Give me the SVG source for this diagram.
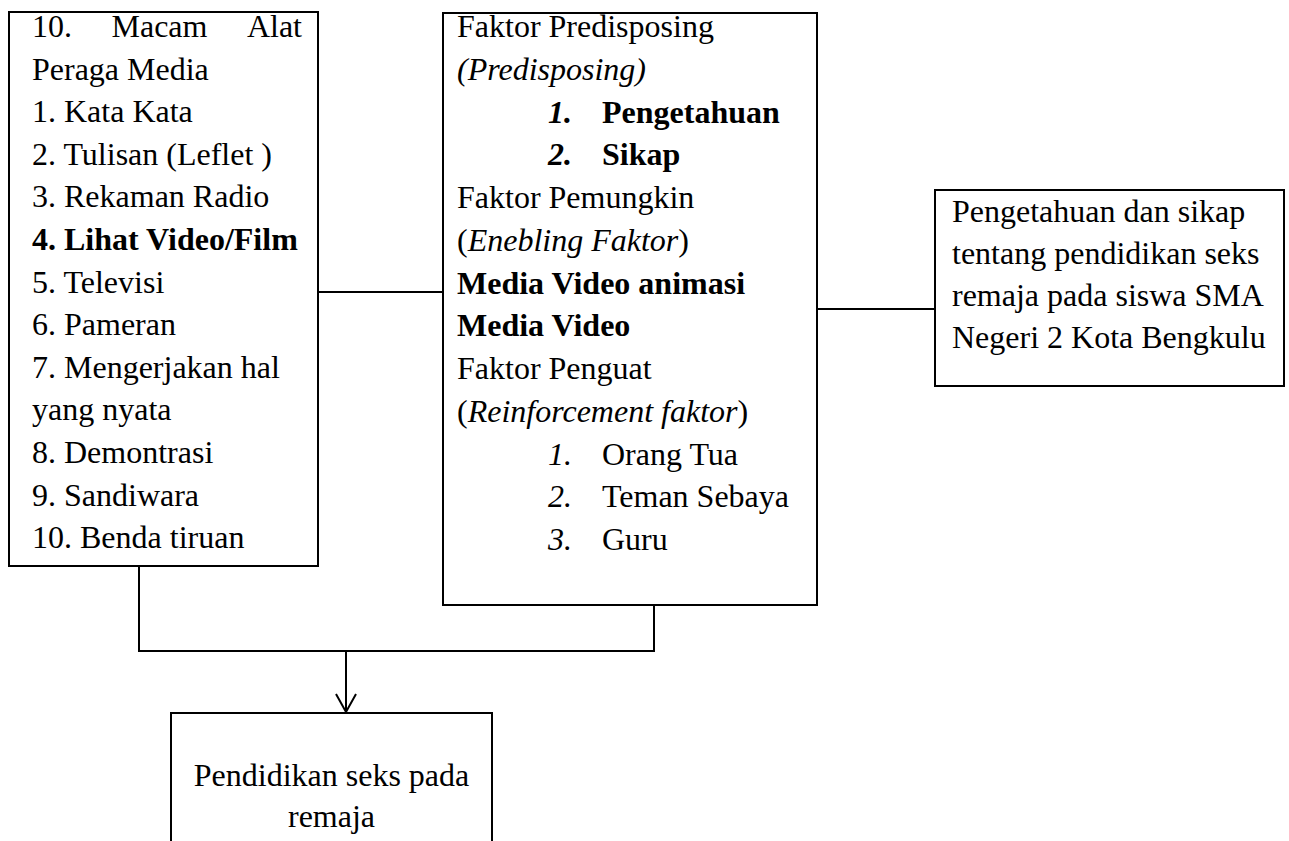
<svg xmlns="http://www.w3.org/2000/svg" width="1289" height="841" viewBox="0 0 1289 841">
<defs>
<style>
.box{fill:#fff;stroke:#000;stroke-width:2}
.t{font-family:"Liberation Serif","Times New Roman",serif;font-size:32px;fill:#000}
.b{font-weight:bold}
.i{font-style:italic}
.c{fill:none;stroke:#000;stroke-width:2}
</style>
<marker id="arr" markerWidth="22" markerHeight="24" refX="19" refY="11" orient="auto" markerUnits="userSpaceOnUse">
<path d="M1,1 L19,11 L1,21" fill="none" stroke="#000" stroke-width="2"/>
</marker>
</defs>
<rect width="1289" height="841" fill="#fff"/>
<g id="connectors">
<line class="c" x1="318" y1="292" x2="443" y2="292"/>
<line class="c" x1="817" y1="309" x2="935" y2="309"/>
<polyline class="c" points="139,566 139,651 654,651 654,605"/>
<line class="c" x1="346" y1="651" x2="346" y2="712" marker-end="url(#arr)"/>
</g>
<g id="node-media">
<rect class="box" x="9" y="12" width="309" height="554"/>
<text class="t" x="32" y="37">10.</text>
<text class="t" x="111.5" y="37">Macam</text>
<text class="t" x="302" y="37" text-anchor="end">Alat</text>
<text class="t" x="32" y="79.6">Peraga Media</text>
<text class="t" x="32" y="122.2">1. Kata Kata</text>
<text class="t" x="32" y="164.8">2. Tulisan (Leflet )</text>
<text class="t" x="32" y="207.4">3. Rekaman Radio</text>
<text class="t b" x="32" y="250">4. Lihat Video/Film</text>
<text class="t" x="32" y="292.6">5. Televisi</text>
<text class="t" x="32" y="335.2">6. Pameran</text>
<text class="t" x="32" y="377.8">7. Mengerjakan hal</text>
<text class="t" x="32" y="420.4">yang nyata</text>
<text class="t" x="32" y="463">8. Demontrasi</text>
<text class="t" x="32" y="505.6">9. Sandiwara</text>
<text class="t" x="32" y="548.2">10. Benda tiruan</text>
</g>
<g id="node-faktor">
<rect class="box" x="443" y="13" width="374" height="592"/>
<text class="t" x="457" y="37">Faktor Predisposing</text>
<text class="t i" x="457" y="79.7">(Predisposing)</text>
<text class="t i b" x="548" y="122.5">1.</text>
<text class="t b" x="602" y="122.5">Pengetahuan</text>
<text class="t i b" x="548" y="165.2">2.</text>
<text class="t b" x="602" y="165.2">Sikap</text>
<text class="t" x="457" y="208">Faktor Pemungkin</text>
<text class="t" x="457" y="250.7">(<tspan class="i">Enebling Faktor</tspan>)</text>
<text class="t b" x="457" y="293.5">Media Video animasi</text>
<text class="t b" x="457" y="336.2">Media Video</text>
<text class="t" x="457" y="379">Faktor Penguat</text>
<text class="t" x="457" y="421.7">(<tspan class="i">Reinforcement faktor</tspan>)</text>
<text class="t i" x="548" y="464.5">1.</text>
<text class="t" x="602" y="464.5">Orang Tua</text>
<text class="t i" x="548" y="507.2">2.</text>
<text class="t" x="602" y="507.2">Teman Sebaya</text>
<text class="t i" x="548" y="550">3.</text>
<text class="t" x="602" y="550">Guru</text>
</g>
<g id="node-hasil">
<rect class="box" x="935" y="190" width="349" height="196"/>
<text class="t" x="952" y="222">Pengetahuan dan sikap</text>
<text class="t" x="952" y="264">tentang pendidikan seks</text>
<text class="t" x="952" y="306">remaja pada siswa SMA</text>
<text class="t" x="952" y="348">Negeri 2 Kota Bengkulu</text>
</g>
<g id="node-pendidikan">
<rect class="box" x="171" y="713" width="321" height="140"/>
<text class="t" x="331.5" y="786" text-anchor="middle">Pendidikan seks pada</text>
<text class="t" x="331.5" y="827" text-anchor="middle">remaja</text>
</g>
</svg>
